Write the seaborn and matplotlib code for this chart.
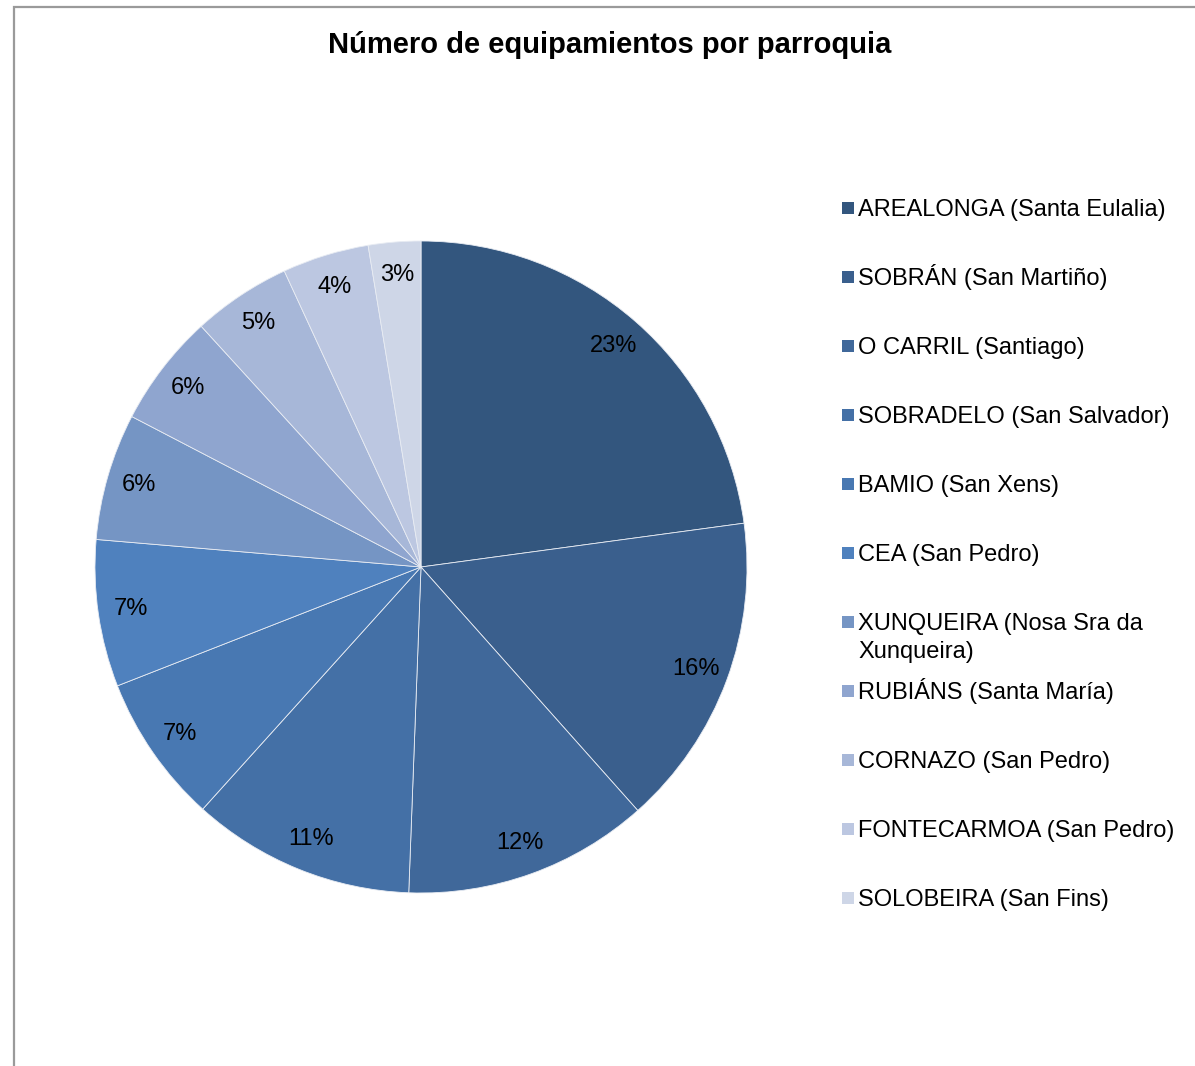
import matplotlib
matplotlib.use("Agg")
import matplotlib.pyplot as plt
import seaborn as sns
from matplotlib.patches import Rectangle

# datos (porcentaje estimado de equipamientos por parroquia)
parroquias = [
    'AREALONGA (Santa Eulalia)', 'SOBRÁN (San Martiño)', 'O CARRIL (Santiago)',
    'SOBRADELO (San Salvador)', 'BAMIO (San Xens)', 'CEA (San Pedro)',
    'XUNQUEIRA (Nosa Sra da\nXunqueira)', 'RUBIÁNS (Santa María)',
    'CORNAZO (San Pedro)', 'FONTECARMOA (San Pedro)', 'SOLOBEIRA (San Fins)'
]
valores = [22.9, 15.6, 12.2, 11.1, 7.4, 7.3, 6.3, 5.6, 4.9, 4.3, 2.6]

colores = ['#33567e', '#3a5f8d', '#40689a', '#4470a6', '#4878b2', '#4f81be',
           '#7595c4', '#8fa5cf', '#a7b7d8', '#bcc7e1', '#ced6e7']

sns.set_theme(style="white")
plt.rcParams['font.family'] = ['Liberation Sans', 'DejaVu Sans']
plt.rcParams['text.color'] = 'black'

W, H = 1195, 1066
fig = plt.figure(figsize=(W / 100, H / 100), dpi=100)

# marco del gráfico (cortado a la derecha y abajo)
fig.patches.append(Rectangle((14 / W, -0.1), 1.2, (H - 7) / H + 0.1,
                             transform=fig.transFigure, fill=False,
                             edgecolor='#9a9a9a', linewidth=1.6))

cx, cy, r = 421, 567, 326
ax = fig.add_axes([(cx - r) / W, (H - cy - r) / H, 2 * r / W, 2 * r / H])
ax.pie(valores, colors=colores, startangle=90, counterclock=False,
       autopct=lambda p: f'{p:.0f}%', pctdistance=0.9,
       wedgeprops=dict(edgecolor='#e8ecf3', linewidth=0.6),
       textprops=dict(fontsize=17, color='black'))
ax.set_xlim(-1, 1)
ax.set_ylim(-1, 1)
ax.set_aspect('equal')
ax.axis('off')

fig.text(610 / W, 1 - 45 / H, 'Número de equipamientos por parroquia',
         ha='center', va='center', fontsize=21, fontweight='bold', color='black')

# leyenda
for i, (nombre, color) in enumerate(zip(parroquias, colores)):
    y = 208 + 69 * i
    fig.patches.append(Rectangle((842 / W, 1 - (y + 6) / H), 12 / W, 12 / H,
                                 transform=fig.transFigure, facecolor=color,
                                 edgecolor='none'))
    lineas = nombre.split('\n')
    for j, linea in enumerate(lineas):
        fig.text(858 / W, 1 - (y + 8 + 28 * j) / H, linea, ha='left',
                 va='baseline', fontsize=17, color='black')

fig.savefig('out.png', dpi=100, facecolor='white')
